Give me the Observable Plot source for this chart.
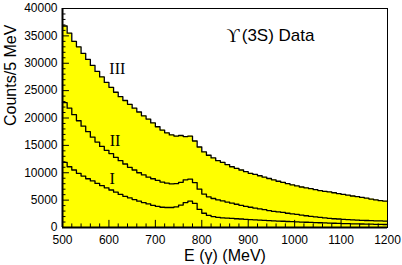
<!DOCTYPE html>
<html>
<head>
<meta charset="utf-8">
<script src="https://cdn.jsdelivr.net/npm/d3@7"></script>
<script src="https://cdn.jsdelivr.net/npm/@observablehq/plot@0.6"></script>
<style>
  html, body { margin: 0; padding: 0; background: #ffffff; }
  #chart { width: 402px; height: 265px; }
</style>
</head>
<body>
<div id="chart"></div>
<script>
// Bin left edges (MeV)
const energy = [500,510,520,530,540,550,560,570,580,590,600,610,620,630,640,650,660,670,680,690,
  700,710,720,730,740,750,760,770,780,790,800,810,820,830,840,850,860,870,880,890,
  900,910,920,930,940,950,960,970,980,990,1000,1010,1020,1030,1040,1050,1060,1070,1080,1090,
  1100,1110,1120,1130,1140,1150,1160,1170,1180,1190];

// Curve III (top, filled)
const countsIII = [36800,35500,34000,33000,31800,30700,29600,28500,27500,26500,
  25600,24700,23900,23200,22500,21800,21100,20400,19800,19100,
  18400,17800,17300,16900,16700,16800,16600,16700,15800,14700,
  13800,13200,12700,12200,11900,11500,11100,10800,10500,10200,
  9900,9700,9450,9200,8950,8700,8450,8250,8000,7800,
  7600,7400,7250,7100,6900,6750,6600,6500,6350,6200,
  6050,5900,5750,5650,5500,5350,5200,5050,4900,4800];

// Curve II
const countsII = [22800,21800,20600,19500,18500,17500,16500,15600,14800,14100,
  13500,12800,12200,11600,11000,10500,10000,9600,9200,8900,
  8600,8300,8100,7950,8000,8250,8700,8850,8200,7000,
  6100,5600,5300,5050,4850,4650,4450,4250,4050,3850,
  3700,3550,3400,3250,3100,2950,2850,2750,2600,2500,
  2400,2250,2150,2050,1950,1850,1750,1680,1600,1550,
  1500,1450,1400,1350,1300,1280,1250,1220,1200,1180];

// Curve I
const countsI = [11900,11100,10500,9900,9400,8900,8500,8050,7650,7250,
  6850,6450,6050,5700,5400,5100,4800,4550,4300,4050,
  3850,3700,3650,3650,3750,4100,4550,4800,4400,3300,
  2600,2200,2000,1850,1750,1700,1650,1600,1550,1500,
  1450,1400,1350,1300,1250,1200,1170,1140,1100,1060,
  1020,990,960,930,900,870,840,810,780,750,
  720,700,680,660,640,620,600,580,560,550];

const xTicks = [500,600,700,800,900,1000,1100,1200];
const yTicks = [0,5000,10000,15000,20000,25000,30000,35000,40000];
const curveLabels = ["I", "II", "III"];
const titleSymbol = "ϒ";
const titleText = "(3S) Data";
const xTitle = "E (γ) (MeV)";
const yTitle = "Counts/5 MeV";

const binWidth = 10;
function toRows(counts) {
  const rows = energy.map((e, i) => ({E: e, v: counts[i]}));
  rows.push({E: energy[energy.length - 1] + binWidth, v: counts[counts.length - 1]});
  return rows;
}
const rowsI = toRows(countsI), rowsII = toRows(countsII), rowsIII = toRows(countsIII);

const xMinor = d3.range(500, 1200, 20).filter(d => !xTicks.includes(d));
const yMinor = d3.range(0, 40000, 1000).filter(d => !yTicks.includes(d));

const serif = "'Liberation Serif', 'DejaVu Serif', 'Times New Roman', serif";
const sans = "'Liberation Sans', Arial, Helvetica, sans-serif";
const yellow = "#ffff00";
const lineStyle = {x: "E", y: "v", curve: "step-after", stroke: "black", strokeWidth: 1.3};

const chart = Plot.plot({
  width: 402,
  height: 265,
  marginLeft: 62,
  marginRight: 15,
  marginTop: 8,
  marginBottom: 38,
  x: {domain: [500, 1200]},
  y: {domain: [0, 40000]},
  style: {fontFamily: sans, background: "white", color: "black"},
  marks: [
    Plot.areaY(rowsIII, {x: "E", y: "v", curve: "step-after", fill: yellow}),
    Plot.lineY(rowsI, lineStyle),
    Plot.lineY(rowsII, lineStyle),
    Plot.lineY(rowsIII, lineStyle),
    // inward ticks
    Plot.ruleX(xTicks, {x: d => d, y1: 0, y2: 1300, stroke: "black", strokeWidth: 1}),
    Plot.ruleX(xMinor, {x: d => d, y1: 0, y2: 650, stroke: "black", strokeWidth: 1}),
    Plot.ruleY(yTicks, {y: d => d, x1: 500, x2: 515, stroke: "black", strokeWidth: 1}),
    Plot.ruleY(yMinor, {y: d => d, x1: 500, x2: 507.5, stroke: "black", strokeWidth: 1}),
    Plot.frame({stroke: "black", strokeWidth: 1}),
    Plot.ruleX([500], {stroke: "black", strokeWidth: 2}),
    Plot.ruleY([0], {stroke: "black", strokeWidth: 2}),
    Plot.axisX({ticks: xTicks, tickSize: 0, tickPadding: 8, fontSize: 12, label: null, tickFormat: d => String(d)}),
    Plot.axisY({ticks: yTicks, tickSize: 0, tickPadding: 5, fontSize: 12, label: null, tickFormat: d => String(d)}),
    // curve labels
    Plot.text([curveLabels[0]], {x: 607, y: 8900, text: d => d, fontFamily: serif, fontSize: 16, lineAnchor: "middle"}),
    Plot.text([curveLabels[1]], {x: 613, y: 15900, text: d => d, fontFamily: serif, fontSize: 16, lineAnchor: "middle"}),
    Plot.text([curveLabels[2]], {x: 618, y: 28900, text: d => d, fontFamily: serif, fontSize: 16, lineAnchor: "middle"}),
    // title
    Plot.text([titleSymbol], {x: 853, y: 35000, text: d => d, fontFamily: serif, fontSize: 18, textAnchor: "start", lineAnchor: "middle"}),
    Plot.text([titleText], {x: 886, y: 35000, text: d => d, fontFamily: sans, fontSize: 17, textAnchor: "start", lineAnchor: "middle"}),
    // axis titles
    Plot.text([xTitle], {frameAnchor: "bottom", dy: 28, text: d => d, fontSize: 16, lineAnchor: "middle"}),
    Plot.text([yTitle], {frameAnchor: "left", dx: -52, dy: 8, rotate: -90, text: d => d, fontSize: 16, lineAnchor: "middle"})
  ]
});
document.getElementById("chart").appendChild(chart);
</script>
</body>
</html>
